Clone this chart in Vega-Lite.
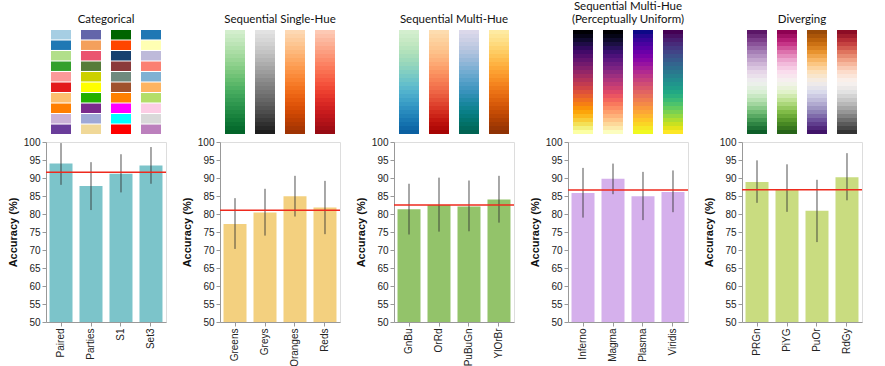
{
  "$schema": "https://vega.github.io/schema/vega-lite/v6.json",
  "background": "white",
  "padding": {"left": 6, "top": 0, "right": 5, "bottom": 0},
  "datasets": {
    "cat": [{"step":0},{"step":1},{"step":2},{"step":3},{"step":4},{"step":5},{"step":6},{"step":7},{"step":8},{"step":9}],
    "seq": [{"step":0},{"step":1},{"step":2},{"step":3},{"step":4},{"step":5},{"step":6},{"step":7},{"step":8},{"step":9},{"step":10},{"step":11},{"step":12},{"step":13},{"step":14},{"step":15},{"step":16},{"step":17},{"step":18},{"step":19},{"step":20},{"step":21},{"step":22},{"step":23},{"step":24},{"step":25}],
    "acc": [
      {"group":"Categorical","map":"Paired","acc":94.0,"lo":88.1,"hi":99.7},
      {"group":"Categorical","map":"Parties","acc":87.8,"lo":81.1,"hi":94.4},
      {"group":"Categorical","map":"S1","acc":91.2,"lo":86.0,"hi":96.6},
      {"group":"Categorical","map":"Set3","acc":93.5,"lo":88.4,"hi":98.6},
      {"group":"Single","map":"Greens","acc":77.2,"lo":70.3,"hi":84.4},
      {"group":"Single","map":"Greys","acc":80.4,"lo":74.0,"hi":87.0},
      {"group":"Single","map":"Oranges","acc":84.9,"lo":79.3,"hi":90.6},
      {"group":"Single","map":"Reds","acc":81.8,"lo":74.4,"hi":89.2},
      {"group":"Multi","map":"GnBu","acc":81.3,"lo":74.3,"hi":88.4},
      {"group":"Multi","map":"OrRd","acc":82.5,"lo":75.1,"hi":90.1},
      {"group":"Multi","map":"PuBuGn","acc":82.1,"lo":75.2,"hi":89.3},
      {"group":"Multi","map":"YlOrBr","acc":84.0,"lo":77.6,"hi":90.6},
      {"group":"Perceptual","map":"Inferno","acc":85.8,"lo":79.0,"hi":92.8},
      {"group":"Perceptual","map":"Magma","acc":89.8,"lo":85.5,"hi":94.0},
      {"group":"Perceptual","map":"Plasma","acc":84.9,"lo":78.3,"hi":91.7},
      {"group":"Perceptual","map":"Viridis","acc":86.1,"lo":80.5,"hi":92.1},
      {"group":"Diverging","map":"PRGn","acc":88.9,"lo":83.1,"hi":94.9},
      {"group":"Diverging","map":"PiYG","acc":86.9,"lo":80.6,"hi":93.8},
      {"group":"Diverging","map":"PuOr","acc":80.9,"lo":72.2,"hi":89.5},
      {"group":"Diverging","map":"RdGy","acc":90.2,"lo":83.8,"hi":96.9}
    ]
  },
  "config": {
    "view": {"stroke": "#dddddd"},
    "axis": {"labelFont": "Liberation Sans", "titleFont": "Liberation Sans", "labelFontSize": 10, "titleFontSize": 11, "titleFontWeight": "bold", "grid": false, "domainColor": "#999999", "tickColor": "#999999", "labelColor": "#222222", "titleColor": "#111111", "labelOverlap": false, "tickSize": 4, "labelPadding": 2, "titlePadding": 5},
    "title": {"font": "Lato", "fontSize": 11.5, "fontWeight": "normal", "anchor": "middle", "offset": 5, "color": "#111111", "lineHeight": 13}
  },
  "columns": 5,
  "bounds": "flush",
  "align": "each",
  "spacing": {"row": 8, "column": 54},
  "concat": [
    {
      "width": 120, "height": 104,
      "title": "Categorical",
      "view": {"stroke": null},
      "data": {"name": "cat"},
      "layer": [
        {"mark": "rect", "encoding": {
          "x": {"datum": "Paired", "type": "nominal", "scale": {"domain": ["Paired","Parties","S1","Set3"], "paddingInner": 0.333, "paddingOuter": 0.1667}, "axis": null},
          "y": {"field": "step", "type": "ordinal", "axis": null, "scale": {"paddingInner": 0.1, "paddingOuter": 0}},
          "color": {"field": "step", "type": "ordinal", "scale": {"scheme": "paired"}, "legend": null}}},
        {"mark": "rect", "encoding": {
          "x": {"datum": "Parties", "type": "nominal"},
          "y": {"field": "step", "type": "ordinal"},
          "color": {"field": "step", "type": "ordinal", "scale": {"range": ["#6366aa","#f4a05c","#ea5470","#567c3a","#ccd000","#ffff00","#22b000","#7b2a8c","#9fa8d6","#f0d898"]}, "legend": null}}},
        {"mark": "rect", "encoding": {
          "x": {"datum": "S1", "type": "nominal"},
          "y": {"field": "step", "type": "ordinal"},
          "color": {"field": "step", "type": "ordinal", "scale": {"range": ["#006400","#ff4500","#17416f","#8b3a3a","#708a7e","#a0522d","#ff8000","#ff00ff","#00ffff","#ff0000"]}, "legend": null}}},
        {"mark": "rect", "encoding": {
          "x": {"datum": "Set3", "type": "nominal"},
          "y": {"field": "step", "type": "ordinal"},
          "color": {"field": "step", "type": "ordinal", "scale": {"range": ["#1f77b4","#ffffb3","#bebada","#fb8072","#80b1d3","#fdb462","#b3de69","#fccde5","#d9d9d9","#bc80bd"]}, "legend": null}}}
      ],
      "resolve": {"scale": {"color": "independent"}}
    },
    {
      "width": 120, "height": 104,
      "title": "Sequential Single-Hue",
      "view": {"stroke": null},
      "data": {"name": "seq"},
      "layer": [
        {"mark": "rect", "encoding": {
          "x": {"datum": "Greens", "type": "nominal", "scale": {"domain": ["Greens","Greys","Oranges","Reds"], "paddingInner": 0.333, "paddingOuter": 0.1667}, "axis": null},
          "y": {"field": "step", "type": "ordinal", "axis": null, "scale": {"paddingInner": 0, "paddingOuter": 0}},
          "color": {"field": "step", "type": "quantitative", "scale": {"scheme": "greens", "domain": [0,25]}, "legend": null}}},
        {"mark": "rect", "encoding": {
          "x": {"datum": "Greys", "type": "nominal"},
          "y": {"field": "step", "type": "ordinal"},
          "color": {"field": "step", "type": "quantitative", "scale": {"scheme": "greys", "domain": [0,25]}, "legend": null}}},
        {"mark": "rect", "encoding": {
          "x": {"datum": "Oranges", "type": "nominal"},
          "y": {"field": "step", "type": "ordinal"},
          "color": {"field": "step", "type": "quantitative", "scale": {"scheme": "oranges", "domain": [0,25]}, "legend": null}}},
        {"mark": "rect", "encoding": {
          "x": {"datum": "Reds", "type": "nominal"},
          "y": {"field": "step", "type": "ordinal"},
          "color": {"field": "step", "type": "quantitative", "scale": {"scheme": "reds", "domain": [0,25]}, "legend": null}}}
      ],
      "resolve": {"scale": {"color": "independent"}}
    },
    {
      "width": 120, "height": 104,
      "title": "Sequential Multi-Hue",
      "view": {"stroke": null},
      "data": {"name": "seq"},
      "layer": [
        {"mark": "rect", "encoding": {
          "x": {"datum": "GnBu", "type": "nominal", "scale": {"domain": ["GnBu","OrRd","PuBuGn","YlOrBr"], "paddingInner": 0.333, "paddingOuter": 0.1667}, "axis": null},
          "y": {"field": "step", "type": "ordinal", "axis": null, "scale": {"paddingInner": 0, "paddingOuter": 0}},
          "color": {"field": "step", "type": "quantitative", "scale": {"scheme": "greenblue", "domain": [0,25]}, "legend": null}}},
        {"mark": "rect", "encoding": {
          "x": {"datum": "OrRd", "type": "nominal"},
          "y": {"field": "step", "type": "ordinal"},
          "color": {"field": "step", "type": "quantitative", "scale": {"scheme": "orangered", "domain": [0,25]}, "legend": null}}},
        {"mark": "rect", "encoding": {
          "x": {"datum": "PuBuGn", "type": "nominal"},
          "y": {"field": "step", "type": "ordinal"},
          "color": {"field": "step", "type": "quantitative", "scale": {"scheme": "purplebluegreen", "domain": [0,25]}, "legend": null}}},
        {"mark": "rect", "encoding": {
          "x": {"datum": "YlOrBr", "type": "nominal"},
          "y": {"field": "step", "type": "ordinal"},
          "color": {"field": "step", "type": "quantitative", "scale": {"scheme": "yelloworangebrown", "domain": [0,25]}, "legend": null}}}
      ],
      "resolve": {"scale": {"color": "independent"}}
    },
    {
      "width": 120, "height": 104,
      "title": {"text": ["Sequential Multi-Hue", "(Perceptually Uniform)"]},
      "view": {"stroke": null},
      "data": {"name": "seq"},
      "layer": [
        {"mark": "rect", "encoding": {
          "x": {"datum": "Inferno", "type": "nominal", "scale": {"domain": ["Inferno","Magma","Plasma","Viridis"], "paddingInner": 0.333, "paddingOuter": 0.1667}, "axis": null},
          "y": {"field": "step", "type": "ordinal", "axis": null, "scale": {"paddingInner": 0, "paddingOuter": 0}},
          "color": {"field": "step", "type": "quantitative", "scale": {"scheme": "inferno", "domain": [0,25]}, "legend": null}}},
        {"mark": "rect", "encoding": {
          "x": {"datum": "Magma", "type": "nominal"},
          "y": {"field": "step", "type": "ordinal"},
          "color": {"field": "step", "type": "quantitative", "scale": {"scheme": "magma", "domain": [0,25]}, "legend": null}}},
        {"mark": "rect", "encoding": {
          "x": {"datum": "Plasma", "type": "nominal"},
          "y": {"field": "step", "type": "ordinal"},
          "color": {"field": "step", "type": "quantitative", "scale": {"scheme": "plasma", "domain": [0,25]}, "legend": null}}},
        {"mark": "rect", "encoding": {
          "x": {"datum": "Viridis", "type": "nominal"},
          "y": {"field": "step", "type": "ordinal"},
          "color": {"field": "step", "type": "quantitative", "scale": {"scheme": "viridis", "domain": [0,25]}, "legend": null}}}
      ],
      "resolve": {"scale": {"color": "independent"}}
    },
    {
      "width": 120, "height": 104,
      "title": "Diverging",
      "view": {"stroke": null},
      "data": {"name": "seq"},
      "layer": [
        {"mark": "rect", "encoding": {
          "x": {"datum": "PRGn", "type": "nominal", "scale": {"domain": ["PRGn","PiYG","PuOr","RdGy"], "paddingInner": 0.333, "paddingOuter": 0.1667}, "axis": null},
          "y": {"field": "step", "type": "ordinal", "axis": null, "scale": {"paddingInner": 0, "paddingOuter": 0}},
          "color": {"field": "step", "type": "quantitative", "scale": {"scheme": "purplegreen", "domain": [0,25]}, "legend": null}}},
        {"mark": "rect", "encoding": {
          "x": {"datum": "PiYG", "type": "nominal"},
          "y": {"field": "step", "type": "ordinal"},
          "color": {"field": "step", "type": "quantitative", "scale": {"scheme": "pinkyellowgreen", "domain": [0,25]}, "legend": null}}},
        {"mark": "rect", "encoding": {
          "x": {"datum": "PuOr", "type": "nominal"},
          "y": {"field": "step", "type": "ordinal"},
          "color": {"field": "step", "type": "quantitative", "scale": {"scheme": "purpleorange", "domain": [0,25], "reverse": true}, "legend": null}}},
        {"mark": "rect", "encoding": {
          "x": {"datum": "RdGy", "type": "nominal"},
          "y": {"field": "step", "type": "ordinal"},
          "color": {"field": "step", "type": "quantitative", "scale": {"scheme": "redgrey", "domain": [0,25]}, "legend": null}}}
      ],
      "resolve": {"scale": {"color": "independent"}}
    },
    {
      "width": 120, "height": 180,
      "data": {"name": "acc"},
      "transform": [{"filter": "datum.group === 'Categorical'"}],
      "layer": [
        {"mark": {"type": "bar", "color": "#7cc4ca", "clip": true}, "encoding": {
          "x": {"field": "map", "type": "nominal", "sort": null, "scale": {"paddingInner": 0.233, "paddingOuter": 0.117}, "axis": {"title": null, "labelAngle": -90}},
          "y": {"field": "acc", "type": "quantitative", "scale": {"domain": [50, 100], "zero": false, "nice": false}, "axis": {"title": "Accuracy (%)", "tickCount": 10, "labelOverlap": false}},
          "y2": {"datum": 50}}},
        {"mark": {"type": "rule", "color": "#333333", "strokeWidth": 1, "opacity": 0.85}, "encoding": {
          "x": {"field": "map", "type": "nominal", "sort": null},
          "y": {"field": "lo", "type": "quantitative"}, "y2": {"field": "hi"}}},
        {"mark": {"type": "rule", "color": "#ee2a1e", "strokeWidth": 1.5}, "encoding": {
          "y": {"aggregate": "mean", "field": "acc", "type": "quantitative"}}}
      ]
    },
    {
      "width": 120, "height": 180,
      "data": {"name": "acc"},
      "transform": [{"filter": "datum.group === 'Single'"}],
      "layer": [
        {"mark": {"type": "bar", "color": "#f3d07f", "clip": true}, "encoding": {
          "x": {"field": "map", "type": "nominal", "sort": null, "scale": {"paddingInner": 0.233, "paddingOuter": 0.117}, "axis": {"title": null, "labelAngle": -90}},
          "y": {"field": "acc", "type": "quantitative", "scale": {"domain": [50, 100], "zero": false, "nice": false}, "axis": {"title": "Accuracy (%)", "tickCount": 10, "labelOverlap": false}},
          "y2": {"datum": 50}}},
        {"mark": {"type": "rule", "color": "#333333", "strokeWidth": 1, "opacity": 0.85}, "encoding": {
          "x": {"field": "map", "type": "nominal", "sort": null},
          "y": {"field": "lo", "type": "quantitative"}, "y2": {"field": "hi"}}},
        {"mark": {"type": "rule", "color": "#ee2a1e", "strokeWidth": 1.5}, "encoding": {
          "y": {"aggregate": "mean", "field": "acc", "type": "quantitative"}}}
      ]
    },
    {
      "width": 120, "height": 180,
      "data": {"name": "acc"},
      "transform": [{"filter": "datum.group === 'Multi'"}],
      "layer": [
        {"mark": {"type": "bar", "color": "#93c36a", "clip": true}, "encoding": {
          "x": {"field": "map", "type": "nominal", "sort": null, "scale": {"paddingInner": 0.233, "paddingOuter": 0.117}, "axis": {"title": null, "labelAngle": -90}},
          "y": {"field": "acc", "type": "quantitative", "scale": {"domain": [50, 100], "zero": false, "nice": false}, "axis": {"title": "Accuracy (%)", "tickCount": 10, "labelOverlap": false}},
          "y2": {"datum": 50}}},
        {"mark": {"type": "rule", "color": "#333333", "strokeWidth": 1, "opacity": 0.85}, "encoding": {
          "x": {"field": "map", "type": "nominal", "sort": null},
          "y": {"field": "lo", "type": "quantitative"}, "y2": {"field": "hi"}}},
        {"mark": {"type": "rule", "color": "#ee2a1e", "strokeWidth": 1.5}, "encoding": {
          "y": {"aggregate": "mean", "field": "acc", "type": "quantitative"}}}
      ]
    },
    {
      "width": 120, "height": 180,
      "data": {"name": "acc"},
      "transform": [{"filter": "datum.group === 'Perceptual'"}],
      "layer": [
        {"mark": {"type": "bar", "color": "#d5b0ec", "clip": true}, "encoding": {
          "x": {"field": "map", "type": "nominal", "sort": null, "scale": {"paddingInner": 0.233, "paddingOuter": 0.117}, "axis": {"title": null, "labelAngle": -90}},
          "y": {"field": "acc", "type": "quantitative", "scale": {"domain": [50, 100], "zero": false, "nice": false}, "axis": {"title": "Accuracy (%)", "tickCount": 10, "labelOverlap": false}},
          "y2": {"datum": 50}}},
        {"mark": {"type": "rule", "color": "#333333", "strokeWidth": 1, "opacity": 0.85}, "encoding": {
          "x": {"field": "map", "type": "nominal", "sort": null},
          "y": {"field": "lo", "type": "quantitative"}, "y2": {"field": "hi"}}},
        {"mark": {"type": "rule", "color": "#ee2a1e", "strokeWidth": 1.5}, "encoding": {
          "y": {"aggregate": "mean", "field": "acc", "type": "quantitative"}}}
      ]
    },
    {
      "width": 120, "height": 180,
      "data": {"name": "acc"},
      "transform": [{"filter": "datum.group === 'Diverging'"}],
      "layer": [
        {"mark": {"type": "bar", "color": "#c9dc80", "clip": true}, "encoding": {
          "x": {"field": "map", "type": "nominal", "sort": null, "scale": {"paddingInner": 0.233, "paddingOuter": 0.117}, "axis": {"title": null, "labelAngle": -90}},
          "y": {"field": "acc", "type": "quantitative", "scale": {"domain": [50, 100], "zero": false, "nice": false}, "axis": {"title": "Accuracy (%)", "tickCount": 10, "labelOverlap": false}},
          "y2": {"datum": 50}}},
        {"mark": {"type": "rule", "color": "#333333", "strokeWidth": 1, "opacity": 0.85}, "encoding": {
          "x": {"field": "map", "type": "nominal", "sort": null},
          "y": {"field": "lo", "type": "quantitative"}, "y2": {"field": "hi"}}},
        {"mark": {"type": "rule", "color": "#ee2a1e", "strokeWidth": 1.5}, "encoding": {
          "y": {"aggregate": "mean", "field": "acc", "type": "quantitative"}}}
      ]
    }
  ]
}
